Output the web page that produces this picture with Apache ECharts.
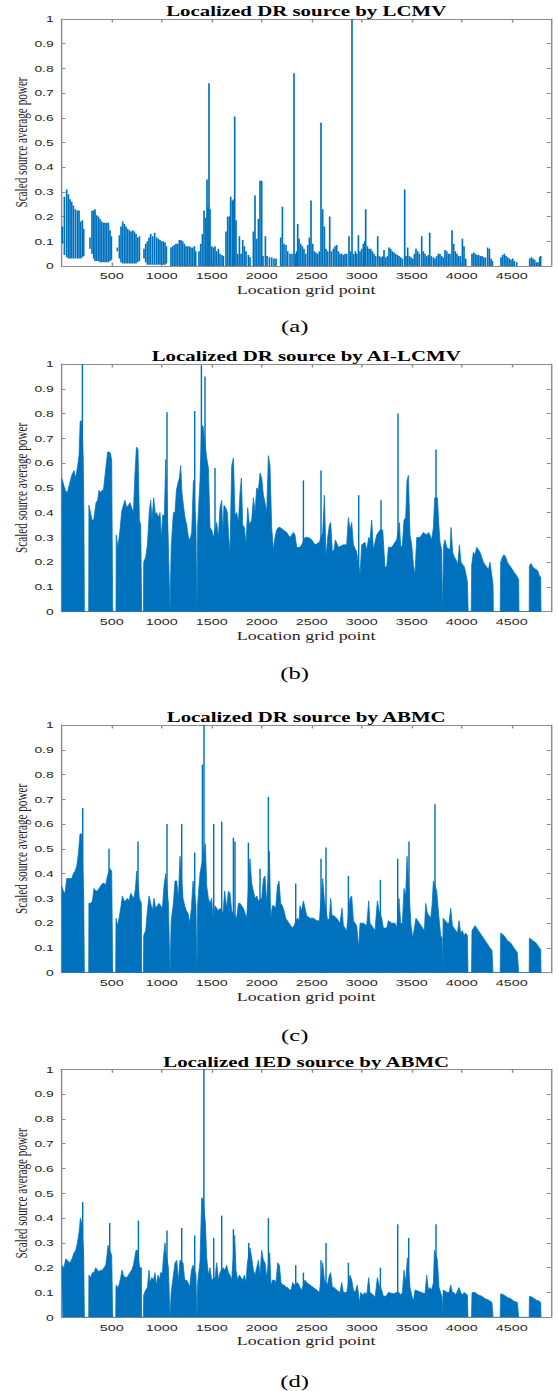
<!DOCTYPE html>
<html><head><meta charset="utf-8">
<script src="https://cdn.jsdelivr.net/npm/echarts@6/dist/echarts.min.js"></script>
<style>
html,body{margin:0;padding:0;background:#fff;overflow:hidden;}
#wrap{width:558px;height:1391px;overflow:hidden;position:relative;}
#chart{width:384.83px;height:1391px;transform:scaleX(1.45);transform-origin:0 0;}
</style></head><body><div id="wrap"><div id="chart"></div></div>
<script>
// ---------- tick labels ----------
const xTicks = [500,1000,1500,2000,2500,3000,3500,4000,4500];
const yTicks = [0,0.1,0.2,0.3,0.4,0.5,0.6,0.7,0.8,0.9,1];
const titles = ['Localized DR source by LCMV','Localized DR source by AI-LCMV','Localized DR source by ABMC','Localized IED source by ABMC'];
const captions = ['(a)','(b)','(c)','(d)'];

// ---------- panel (a): LCMV — [grid point, upper value, lower value (0 if omitted)] ----------
const aLines = [[7,.16,.09],[27,.28,.045],[50,.31,.035],[67,.29,.03],[83,.27,.03],[100,.26,.03],[117,.245,.03],[137,.23,.03],[157,.225,.03],[173,.225,.03],[190,.18,.03],[207,.185,.035],[220,.15,.04],
[283,.115,.07],[303,.225,.05],[320,.225,.03],[333,.23,.02],[350,.205,.02],[367,.2,.02],[383,.19,.015],[400,.18,.015],[417,.175,.015],[433,.175,.015],[450,.175,.015],[467,.175,.015],[483,.145,.02],[497,.12,.025],
[557,.075,.06],[577,.125,.03],[593,.16,.015],[610,.18,.01],[627,.17,.01],[643,.16,.01],[660,.15,.01],[677,.145,.01],[693,.14,.01],[710,.145,.01],[727,.14,.01],[743,.13,.01],[760,.115,.015],[777,.12,.02],
[823,.07,.03],[840,.09,.015],[857,.1,.005],[873,.115,.005],[890,.13,.005],[910,.12,.005],[930,.135,.005],[950,.115,.005],[967,.11,.005],[983,.105,.005],[1000,.1,.005],[1017,.1,.005],[1033,.095,.005],[1047,.08,.01],
[1093,.075],[1110,.08],[1127,.085],[1143,.09],[1160,.09],[1177,.105],[1193,.105],[1210,.1],[1227,.09],[1243,.08],[1260,.08],[1277,.08],[1293,.075],[1310,.075],[1327,.08],[1340,.06],
[1373,.06],[1390,.09],[1407,.13],[1423,.225],[1440,.195],[1453,.35],[1463,.24],[1473,.74],[1483,.23],[1500,.08],[1517,.075],[1533,.08],[1550,.06],[1567,.07],[1583,.05],[1603,.045],[1617,.04],
[1643,.14],[1660,.2],[1677,.2],[1690,.28],[1707,.265],[1720,.27],[1730,.605],[1743,.185],[1760,.05],[1777,.12],[1793,.05],[1810,.105],[1827,.08],[1843,.06],[1867,.045],[1883,.035],
[1917,.14],[1933,.285],[1950,.11],[1967,.19],[1983,.345],[2000,.345],[2013,.04],[2037,.12],[2053,.04],[2077,.035],[2100,.035],[2123,.03],[2143,.03],
[2190,.115],[2207,.24],[2223,.09],[2243,.085],[2260,.06],[2283,.05],[2303,.05],[2323,.78],[2337,.05],[2350,.06],[2360,.17],[2373,.11],[2390,.09],[2407,.08],[2423,.07],[2440,.05],[2460,.085],[2477,.115],[2493,.265],[2510,.09],[2527,.06],[2543,.055],[2560,.05],[2577,.06],[2593,.58],[2610,.23],[2627,.16],[2643,.07],[2660,.06],[2680,.2],[2697,.06],[2717,.07],[2733,.08],[2750,.085],[2767,.06],[2783,.05],[2800,.05],[2817,.045],[2833,.05],[2850,.05],[2873,.12],[2887,.06],[2903,1.0],[2920,.05],[2937,.06],[2950,.05],[2967,.125],[2983,.06],[3000,.07],[3017,.09],[3030,.1],[3040,.23],[3057,.08],[3073,.07],[3090,.07],[3107,.06],[3123,.05],[3140,.04],[3160,.12],[3177,.04],[3193,.035],[3210,.04],[3223,.065],[3240,.035],[3257,.04],[3273,.075],[3290,.07],[3307,.06],[3323,.055],[3340,.05],[3357,.045],[3373,.04],[3390,.035],[3407,.03],[3430,.31],[3443,.04],[3460,.075],[3477,.04],[3493,.035],[3510,.03],[3527,.05],[3543,.07],[3560,.06],[3577,.05],[3600,.12],[3617,.06],[3633,.05],[3650,.04],[3667,.045],[3680,.135],[3697,.04],[3717,.035],[3733,.03],[3750,.04],[3767,.05],[3783,.05],[3800,.04],[3817,.035],[3833,.065],[3850,.06],[3867,.05],[3883,.05],[3903,.145],[3920,.09],[3937,.06],[3953,.05],[3970,.04],[3987,.04],[4007,.11],[4023,.08],[4040,.03],
[4103,.05],[4120,.055],[4137,.05],[4153,.045],[4170,.045],[4187,.04],[4203,.04],[4220,.035],[4237,.035],[4260,.075],[4277,.07],[4293,.03],[4307,.02],
[4393,.035],[4410,.045],[4427,.05],[4443,.04],[4460,.035],[4477,.03],[4493,.025],[4510,.03],[4527,.02],[4550,.015],
[4680,.03],[4697,.035],[4713,.03],[4730,.025],[4747,.015],[4763,.015],[4780,.035],[4790,.04]];

// ---------- panel (b): AI-LCMV ----------
const bEnv = [[0,.54],[15,.52],[35,.49],[55,.48],[75,.51],[100,.55],[123,.57],[140,.54],[160,.59],[173,.63],[185,.77],[200,.77],[215,.62],[222,.4],[227,0],
[270,0],[272,.43],[283,.41],[303,.37],[320,.37],[343,.44],[360,.45],[373,.49],[390,.48],[403,.49],[417,.49],[433,.55],[447,.6],[460,.645],[473,.645],[487,.64],[500,.61],[508,.61],[510,0],
[543,0],[545,.31],[563,.26],[583,.33],[600,.405],[617,.43],[633,.45],[650,.42],[667,.43],[683,.44],[700,.42],[717,.4],[733,.56],[747,.665],[763,.655],[777,.37],[790,.35],[800,0],
[817,0],[820,.2],[840,.22],[857,.27],[877,.41],[890,.45],[903,.37],[920,.46],[937,.39],[950,.4],[967,.38],[983,.4],[997,.3],[1010,.39],[1027,.39],[1040,.615],[1065,.3],[1083,0],
[1093,0],[1095,.26],[1117,.4],[1133,.4],[1147,.49],[1163,.52],[1177,.54],[1190,.59],[1203,.48],[1220,.42],[1233,.38],[1250,.35],[1267,.3],[1283,.29],[1300,.32],[1317,.53],[1343,.34],[1352,0],
[1357,0],[1360,.35],[1383,.53],[1400,.75],[1413,.75],[1450,.62],[1467,.58],[1483,.34],[1500,.33],[1517,.3],[1550,.36],[1567,.3],[1583,.42],[1600,.45],[1610,.32],[1623,.43],[1640,.42],[1657,.4],[1670,.3],[1683,.24],[1700,.59],[1717,.62],[1733,.39],[1750,.4],[1767,.36],[1783,.48],[1797,.54],[1810,.35],[1827,.34],[1843,.27],[1860,.42],[1877,.35],[1900,.37],[1917,.46],[1933,.4],[1950,.5],[1967,.49],[1983,.56],[2000,.54],[2017,.47],[2033,.44],[2050,.4],[2067,.63],[2083,.59],[2100,.34],[2117,.25],[2133,.3],[2150,.33],[2167,.34],[2183,.34],[2217,.33],[2250,.32],[2283,.3],[2317,.32],[2333,.31],[2350,.26],[2383,.26],[2400,.27],[2433,.3],[2467,.3],[2500,.29],[2533,.27],[2577,.28],[2610,.32],[2627,.47],[2643,.22],[2660,.3],[2677,.35],[2690,.36],[2707,.24],[2723,.25],[2737,.29],[2767,.26],[2817,.27],[2850,.27],[2867,.38],[2883,.33],[2900,.36],[2917,.27],[2950,.24],[2983,.15],[3000,.27],[3033,.28],[3050,.25],[3070,.3],[3083,.29],[3100,.37],[3117,.25],[3133,.28],[3150,.31],[3183,.33],[3210,.33],[3233,.18],[3250,.18],[3267,.26],[3300,.26],[3333,.28],[3350,.29],[3377,.36],[3390,.26],[3407,.27],[3423,.37],[3440,.38],[3453,.53],[3467,.55],[3483,.31],[3500,.27],[3517,.19],[3533,.15],[3550,.3],[3583,.3],[3617,.32],[3650,.31],[3667,.32],[3683,.31],[3700,.29],[3717,.34],[3730,.46],[3757,.46],[3770,.36],[3783,.28],[3800,.25],[3806,0],[3812,0],[3820,.27],[3833,.29],[3850,.26],[3883,.25],[3893,.34],[3910,.24],[3927,.22],[3943,.21],[3960,.19],[3977,.27],[3993,.2],[4010,.19],[4027,.18],[4043,.15],[4057,.12],[4065,0],
[4095,0],[4100,.19],[4117,.24],[4133,.23],[4150,.26],[4167,.25],[4183,.24],[4200,.22],[4217,.2],[4233,.19],[4250,.18],[4267,.17],[4283,.2],[4300,.15],[4313,.11],[4317,0],
[4385,0],[4390,.2],[4407,.22],[4423,.23],[4440,.22],[4457,.2],[4473,.19],[4490,.18],[4507,.17],[4523,.16],[4540,.15],[4557,.14],[4570,.13],[4573,0],
[4675,0],[4677,.185],[4693,.195],[4710,.18],[4727,.175],[4743,.17],[4760,.165],[4777,.145],[4790,.14],[4793,0]];
const bSpk = [[207,1.0],[1053,.805],[1330,.81],[1397,.995],[1433,.95],[1533,.58],[2417,.53],[2593,.57],[2970,.47],[3193,.45],[3363,.8],[3743,.655]];

// ---------- panel (c): ABMC (DR) ----------
const cEnv = [[0,.35],[7,.35],[17,.33],[33,.32],[50,.38],[100,.38],[117,.4],[133,.41],[150,.43],[167,.48],[183,.56],[200,.56],[220,.31],[227,0],
[270,0],[272,.28],[290,.28],[307,.29],[323,.34],[340,.33],[357,.33],[373,.34],[390,.35],[407,.36],[423,.36],[440,.355],[457,.39],[483,.42],[500,.41],[508,.41],[510,0],
[540,0],[543,.22],[557,.19],[573,.22],[590,.26],[607,.31],[623,.29],[640,.29],[657,.3],[673,.29],[690,.32],[707,.31],[723,.3],[737,.34],[750,.41],[777,.3],[797,.28],[800,0],
[817,0],[820,.15],[840,.17],[857,.25],[873,.31],[890,.28],[907,.25],[923,.3],[940,.26],[957,.27],[973,.28],[990,.27],[1007,.26],[1023,.35],[1040,.4],[1067,.28],[1083,0],
[1093,0],[1095,.21],[1117,.28],[1133,.37],[1150,.37],[1167,.3],[1183,.47],[1213,.3],[1230,.27],[1247,.25],[1263,.24],[1280,.2],[1297,.26],[1313,.37],[1343,.27],[1352,0],
[1357,0],[1360,.28],[1383,.4],[1437,.52],[1450,.35],[1467,.3],[1483,.28],[1500,.3],[1517,.2],[1533,.27],[1550,.26],[1567,.25],[1583,.26],[1613,.24],[1630,.33],[1650,.26],[1667,.33],[1683,.32],[1700,.25],[1750,.22],[1767,.28],[1783,.28],[1800,.27],[1817,.26],[1833,.24],[1850,.22],[1883,.46],[1900,.36],[1917,.33],[1933,.3],[1950,.31],[1967,.29],[2000,.3],[2017,.38],[2033,.39],[2050,.28],[2077,.49],[2090,.22],[2107,.27],[2123,.27],[2140,.26],[2157,.35],[2173,.37],[2190,.28],[2207,.27],[2223,.25],[2240,.22],[2257,.21],[2273,.2],[2290,.19],[2307,.18],[2323,.19],[2357,.22],[2373,.21],[2383,.27],[2400,.25],[2417,.29],[2450,.23],[2483,.22],[2517,.22],[2550,.21],[2577,.21],[2610,.38],[2627,.29],[2660,.21],[2677,.22],[2690,.3],[2703,.23],[2723,.23],[2750,.22],[2783,.2],[2803,.26],[2817,.19],[2850,.17],[2883,.3],[2900,.31],[2917,.21],[2950,.19],[2970,.1],[2983,.2],[3017,.2],[3050,.19],[3070,.29],[3083,.2],[3117,.18],[3133,.17],[3157,.29],[3173,.25],[3200,.22],[3217,.18],[3250,.18],[3267,.21],[3300,.2],[3333,.2],[3350,.18],[3373,.3],[3390,.2],[3407,.2],[3423,.34],[3440,.31],[3453,.47],[3493,.19],[3510,.14],[3527,.18],[3543,.22],[3577,.2],[3610,.18],[3627,.17],[3640,.28],[3657,.24],[3690,.22],[3703,.27],[3717,.37],[3750,.33],[3773,.22],[3790,.15],[3803,.14],[3806,0],[3812,0],[3815,.22],[3823,.22],[3857,.2],[3873,.2],[3890,.26],[3907,.19],[3940,.17],[3957,.16],[3973,.21],[3990,.16],[4007,.17],[4023,.15],[4040,.16],[4057,.15],[4063,0],
[4098,0],[4103,.17],[4133,.19],[4150,.18],[4183,.16],[4217,.14],[4250,.12],[4283,.1],[4303,.09],[4313,0],
[4385,0],[4390,.16],[4423,.15],[4457,.13],[4490,.12],[4523,.1],[4557,.08],[4570,0],
[4675,0],[4677,.14],[4710,.13],[4743,.12],[4777,.1],[4790,.095],[4793,0]];
const cSpk = [[210,.665],[473,.5],[763,.53],[1053,.6],[1200,.6],[1330,.485],[1407,.84],[1423,1.0],[1520,.6],[1600,.61],[1717,.545],[1733,.53],[1867,.525],[1983,.42],[2067,.71],[2340,.36],[2593,.46],[2643,.505],[2867,.39],[3187,.375],[3360,.46],[3473,.53],[3733,.68]];

// ---------- panel (d): ABMC (IED) ----------
const dEnv = [[0,.21],[7,.21],[23,.2],[40,.235],[57,.23],[73,.22],[90,.225],[107,.24],[123,.26],[140,.27],[157,.3],[173,.34],[187,.4],[200,.38],[220,.25],[227,0],
[270,0],[272,.17],[290,.16],[307,.18],[323,.18],[340,.2],[357,.19],[373,.185],[390,.19],[407,.19],[423,.2],[440,.21],[450,.24],[463,.29],[473,.29],[490,.26],[500,.25],[508,.25],[510,0],
[540,0],[543,.13],[557,.12],[573,.13],[590,.16],[603,.19],[617,.17],[633,.16],[650,.16],[667,.17],[683,.18],[700,.19],[717,.21],[730,.24],[743,.27],[757,.27],[780,.2],[797,.2],[800,0],
[817,0],[820,.09],[840,.11],[857,.12],[873,.19],[883,.14],[900,.16],[917,.15],[933,.18],[947,.13],[963,.17],[977,.15],[990,.18],[1007,.18],[1017,.24],[1033,.3],[1043,.26],[1067,.2],[1083,0],
[1093,0],[1095,.1],[1117,.17],[1133,.22],[1150,.23],[1167,.15],[1183,.23],[1213,.22],[1230,.15],[1247,.15],[1263,.14],[1280,.12],[1297,.19],[1313,.21],[1343,.17],[1352,0],
[1357,0],[1360,.14],[1383,.225],[1400,.48],[1413,.48],[1437,.38],[1450,.24],[1467,.17],[1483,.2],[1500,.15],[1533,.16],[1550,.22],[1567,.15],[1583,.18],[1613,.2],[1633,.19],[1650,.21],[1667,.18],[1683,.17],[1700,.15],[1730,.33],[1743,.19],[1760,.15],[1777,.17],[1793,.16],[1810,.15],[1827,.17],[1843,.14],[1857,.22],[1883,.28],[1900,.24],[1917,.19],[1933,.17],[1950,.2],[1967,.23],[1983,.17],[2000,.27],[2017,.23],[2033,.22],[2050,.16],[2080,.26],[2093,.13],[2110,.15],[2127,.15],[2143,.14],[2160,.22],[2177,.21],[2193,.14],[2210,.13],[2227,.13],[2243,.12],[2260,.12],[2277,.11],[2293,.11],[2310,.14],[2327,.13],[2357,.14],[2373,.13],[2383,.12],[2400,.11],[2433,.15],[2450,.14],[2483,.13],[2517,.12],[2550,.11],[2577,.1],[2610,.22],[2627,.15],[2657,.13],[2677,.17],[2690,.18],[2707,.12],[2723,.12],[2750,.11],[2783,.1],[2800,.14],[2817,.1],[2850,.1],[2883,.17],[2900,.15],[2917,.11],[2933,.1],[2957,.13],[2977,.06],[2990,.1],[3010,.09],[3033,.1],[3050,.09],[3070,.16],[3083,.1],[3117,.09],[3133,.08],[3157,.16],[3173,.13],[3200,.11],[3217,.085],[3243,.085],[3267,.1],[3317,.095],[3350,.1],[3373,.1],[3390,.09],[3407,.1],[3423,.19],[3440,.14],[3457,.24],[3483,.12],[3500,.09],[3517,.065],[3533,.11],[3567,.105],[3600,.1],[3633,.095],[3650,.17],[3667,.11],[3683,.12],[3700,.11],[3717,.14],[3727,.27],[3757,.23],[3773,.12],[3790,.1],[3803,.08],[3806,0],[3812,0],[3815,.11],[3823,.11],[3857,.1],[3873,.1],[3890,.13],[3907,.1],[3923,.1],[3940,.09],[3973,.12],[3990,.1],[4007,.09],[4023,.1],[4057,.09],[4063,0],
[4098,0],[4103,.1],[4133,.1],[4167,.09],[4200,.085],[4233,.075],[4267,.07],[4303,.06],[4313,0],
[4385,0],[4390,.095],[4423,.09],[4457,.08],[4490,.075],[4523,.065],[4557,.06],[4570,0],
[4675,0],[4677,.085],[4710,.08],[4743,.07],[4777,.065],[4790,.06],[4793,0]];
const dSpk = [[210,.465],[480,.38],[767,.39],[1053,.35],[1200,.36],[1330,.33],[1422,1.0],[1520,.32],[1600,.41],[1717,.355],[1870,.3],[2067,.4],[2340,.21],[2417,.18],[2593,.23],[2643,.3],[2867,.22],[3187,.2],[3360,.375],[3470,.32],[3743,.375]];

// ---------- layout ----------
const S = 1.45;                       // horizontal stretch of the original figure
const PL = 61.7 / S, PW = (550.7 - 61.7) / S;
const XMAX = 4890;
const BLUE = '#0072BD', AX = '#8c8c8c', TXT = '#262626';
const tops = [19, 364, 725, 1069.3];
const hts = [247, 247.7, 247.7, 248];
const capY = [326.7, 673, 1035, 1381.7];
const capX = 294.7 / S;

const grids = [], xAxes = [], yAxes = [], series = [], graphics = [];
for (let i = 0; i < 4; i++) {
  grids.push({left: PL, top: tops[i], width: PW, height: hts[i], show: false});
  const xb = {gridIndex: i, type: 'value', min: 0, max: XMAX, interval: 500, position: 'bottom',
    axisLine: {show: true, onZero: false, lineStyle: {color: AX, width: 1}},
    axisTick: {show: true, inside: true, length: 3.5, customValues: xTicks, lineStyle: {color: AX}},
    axisLabel: {show: true, customValues: xTicks, margin: 5, color: TXT, fontSize: 9.9, fontFamily: 'Liberation Sans',
      formatter: v => String(v)},
    splitLine: {show: false}};
  const xt = {gridIndex: i, type: 'value', min: 0, max: XMAX, interval: 500, position: 'top',
    axisLine: {show: true, onZero: false, lineStyle: {color: AX, width: 1}},
    axisTick: {show: true, inside: true, length: 3.5, customValues: xTicks, lineStyle: {color: AX}},
    axisLabel: {show: false}, splitLine: {show: false}};
  xAxes.push(xb, xt);
  const yl = {gridIndex: i, type: 'value', min: 0, max: 1, interval: 0.1, position: 'left',
    axisLine: {show: true, onZero: false, lineStyle: {color: AX, width: 1}},
    axisTick: {show: true, inside: true, length: 2.6, customValues: yTicks, lineStyle: {color: AX}},
    axisLabel: {show: true, customValues: yTicks, margin: 5.5, color: TXT, fontSize: 9.6, fontFamily: 'Liberation Sans',
      formatter: v => String(Math.round(v * 10) / 10)},
    splitLine: {show: false}};
  const yr = {gridIndex: i, type: 'value', min: 0, max: 1, interval: 0.1, position: 'right',
    axisLine: {show: true, onZero: false, lineStyle: {color: AX, width: 1}},
    axisTick: {show: true, inside: true, length: 2.6, customValues: yTicks, lineStyle: {color: AX}},
    axisLabel: {show: false}, splitLine: {show: false}};
  yAxes.push(yl, yr);

  const cx = PL + PW / 2;
  graphics.push({type: 'text', x: cx, y: tops[i] - 7.5, silent: true,
    style: {text: titles[i], font: 'bold 14.4px "Liberation Serif"', fill: '#000', align: 'center', verticalAlign: 'middle', textAlign: 'center', textVerticalAlign: 'middle'}});
  graphics.push({type: 'text', x: cx, y: tops[i] + hts[i] + 23.5, silent: true,
    style: {text: 'Location grid point', font: '12.4px "Liberation Serif"', fill: TXT, align: 'center', verticalAlign: 'middle', textAlign: 'center', textVerticalAlign: 'middle'}});
  graphics.push({type: 'text', x: 21.7 / S, y: tops[i] + hts[i] / 2, rotation: Math.PI / 2, silent: true,
    style: {text: 'Scaled source average power', font: '11.2px "Liberation Serif"', fill: TXT, align: 'center', verticalAlign: 'middle', textAlign: 'center', textVerticalAlign: 'middle'}});
  graphics.push({type: 'text', x: capX, y: capY[i], silent: true,
    style: {text: captions[i], font: '17px "Liberation Serif"', fill: '#000', align: 'center', verticalAlign: 'middle', textAlign: 'center', textVerticalAlign: 'middle'}});
}

function area(i, data) {
  return {type: 'line', xAxisIndex: 2 * i, yAxisIndex: 2 * i, data: data, showSymbol: false, symbol: 'none',
    lineStyle: {color: BLUE, width: 0.6}, areaStyle: {color: BLUE, opacity: 1}, animation: false, silent: true, z: 2};
}
function bars(i, data, w) {
  return {type: 'bar', xAxisIndex: 2 * i, yAxisIndex: 2 * i, data: data, barWidth: w,
    itemStyle: {color: BLUE}, animation: false, silent: true, z: 3};
}
// panel (a): each column spans from its lower value to its upper value, placed through the axes' scales
series.push({
  type: 'custom', xAxisIndex: 0, yAxisIndex: 0, animation: false, silent: true, clip: true, z: 3,
  data: aLines.map(p => [p[0], p[1], p[2] || 0]),
  encode: {x: 0, y: [1, 2]},
  renderItem: function (params, api) {
    const x = api.value(0), hi = api.value(1), lo = api.value(2);
    const top = api.coord([x, hi]), bot = api.coord([x, lo]);
    const w = 1.15;
    return {type: 'rect', shape: {x: top[0] - w / 2, y: top[1], width: w, height: bot[1] - top[1]},
      style: {fill: BLUE}};
  }
});
series.push(area(1, bEnv), bars(1, bSpk, 1));
series.push(area(2, cEnv), bars(2, cSpk, 1));
series.push(area(3, dEnv), bars(3, dSpk, 1));

const chart = echarts.init(document.getElementById('chart'), null, {renderer: 'svg'});
chart.setOption({
  animation: false,
  backgroundColor: '#fff',
  grid: grids, xAxis: xAxes, yAxis: yAxes, series: series,
  graphic: graphics
});
</script></body></html>
